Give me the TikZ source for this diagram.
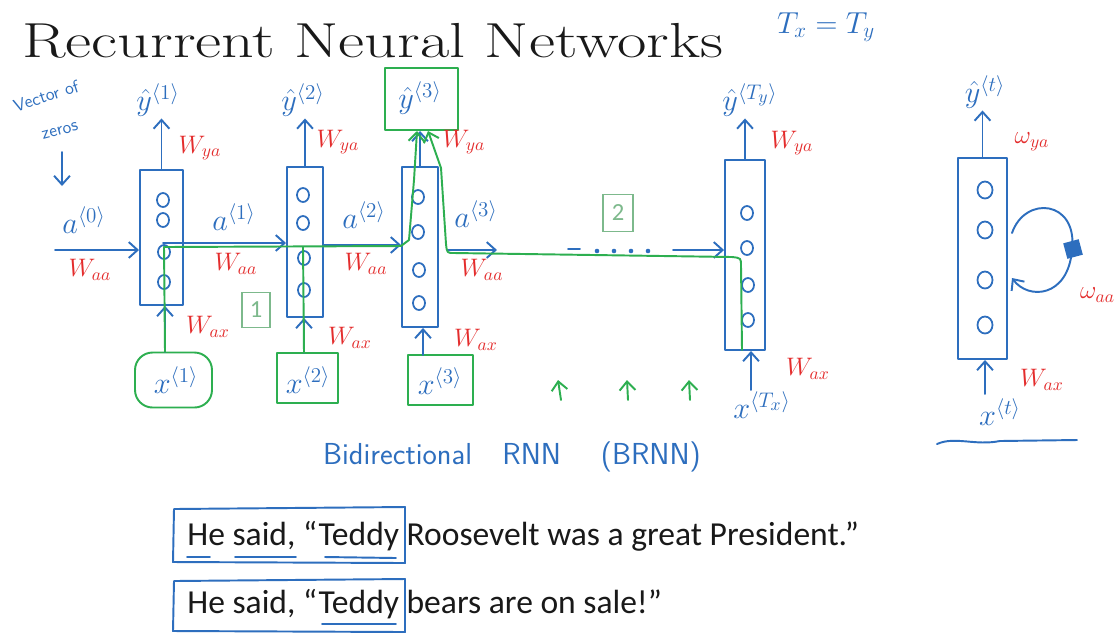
\documentclass[tikz,border=0pt]{standalone}
\usepackage{fontspec}
\usepackage{graphicx}
\newfontfamily\calfont{Carlito}
\usetikzlibrary{arrows.meta,calc}
\definecolor{hblue}{RGB}{45,110,190}
\definecolor{hred}{RGB}{228,45,45}
\definecolor{hgreen}{RGB}{45,175,80}
\definecolor{nbox}{RGB}{125,185,140}
\definecolor{txt}{RGB}{25,25,25}
\newlength\pu \setlength\pu{0.02cm}
\begin{document}
\begin{tikzpicture}[x=0.02cm,y=-0.02cm,
  hand/.style={line width=1.1pt,line cap=round,line join=round},
  cell/.style={draw=hblue,hand,rectangle,inner sep=0pt},
  unit/.style={draw=hblue,line width=1pt},
  bl/.style={hblue,font=\LARGE,inner sep=1pt},
  wl/.style={hred,font=\Large,inner sep=1pt},
  tip/.style={-{Straight Barb[length=5pt,width=9pt]}},
  barrow/.style={hand,draw=hblue,tip},
  gbox/.style={draw=hgreen,hand,rectangle,inner sep=0pt},
  gpath/.style={hand,draw=hgreen,tip},
  numbox/.style={draw=nbox,line width=0.6pt,rectangle,inner sep=0pt,text=nbox,font=\calfont\fontsize{14}{16}\selectfont},
  sent/.style={anchor=base west,inner sep=0pt,text=txt,font=\calfont\fontsize{19.1}{22}\selectfont},
  note/.style={hblue,font=\sffamily\normalsize,inner sep=0pt}]
\useasboundingbox (0,0) rectangle (1118,637);
\fill[white] (0,0) rectangle (1118,637);

% title
\node[anchor=base west,inner sep=0pt,text=txt] (title) at (22,57) {\scalebox{1.3}[1]{\fontsize{28}{30}\selectfont Recurrent Neural Networks}};
\node[hblue,font=\LARGE] (txty) at (826,27) {$T_x = T_y$};

% cells
\node[cell,minimum width=43\pu,minimum height=135\pu] (c1) at (161.5,237.5) {};
\node[cell,minimum width=36\pu,minimum height=150\pu] (c2) at (305,242) {};
\node[cell,minimum width=36\pu,minimum height=160\pu] (c3) at (420,247) {};
\node[cell,minimum width=40\pu,minimum height=190\pu] (cT) at (745,255) {};
\node[cell,minimum width=49\pu,minimum height=201\pu] (cR) at (982.5,258.5) {};

% units
\foreach \xx/\yy in {163/200,163/220,164/252,164/282,
                     303/195,303/223,304/258,304/290,
                     418/197,418/232,419/270,419/303,
                     747/213,747/248,748/285,748/320}
  \draw[unit] (\xx,\yy) ellipse [x radius=0.12cm,y radius=0.14cm];
\foreach \yy in {190,230,280,325}
  \draw[unit] (985,\yy) ellipse [x radius=0.15cm,y radius=0.17cm];

% outputs
\node[bl] (y1) at (158,100) {$\hat{y}^{\langle 1\rangle}$};
\node[bl] (y2) at (303,100) {$\hat{y}^{\langle 2\rangle}$};
\node[bl] (y3) at (420,98) {$\hat{y}^{\langle 3\rangle}$};
\node[gbox,minimum width=73\pu,minimum height=62\pu] (g3) at (421.5,99) {};
\node[bl] (yT) at (750,100) {$\hat{y}^{\langle T_y\rangle}$};
\node[bl] (yR) at (985,92) {$\hat{y}^{\langle t\rangle}$};

\draw[barrow] (c1.north) -- (c1.north |- y1.south);
\draw[barrow] (c2.north) -- (c2.north |- y2.south);
\draw[barrow] (c3.north) -- (c3.north |- g3.south);
\draw[barrow] (cT.north) -- (cT.north |- yT.south);
\draw[barrow] (cR.north) -- (cR.north |- yR.south);

\node[wl] (wy1) at (200,148) {$W_{ya}$};
\node[wl] (wy2) at (338,142) {$W_{ya}$};
\node[wl] (wy3) at (464,142) {$W_{ya}$};
\node[wl] (wyT) at (792,143) {$W_{ya}$};
\node[wl] (wyR) at (1032,142) {$\omega_{ya}$};

% activations
\node[note,rotate=18] (vz1) at (46,96) {Vector of};
\node[note,rotate=15] (vz2) at (60,131) {zeros};
\coordinate (vzA) at (62,152);
\coordinate (vzB) at (62,186);
\draw[barrow] (vzA) -- (vzB);

\node[bl] (a0) at (84,220) {$a^{\langle 0\rangle}$};
\node[bl] (a1) at (234,217) {$a^{\langle 1\rangle}$};
\node[bl] (a2) at (364,215) {$a^{\langle 2\rangle}$};
\node[bl] (a3) at (476,214) {$a^{\langle 3\rangle}$};

\coordinate (a0s) at (55,250);
\coordinate (a1s) at (163,243);
\coordinate (a2s) at (323,245);
\coordinate (a3s) at (447,250);
\coordinate (a3e) at (497,250);
\coordinate (aTs) at (673,250);
\draw[barrow] (a0s) -- (a0s -| c1.west);
\draw[barrow] (a1s) -- (a1s -| c2.west);
\draw[barrow] (a2s) -- (a2s -| c3.west);
\draw[barrow] (a3s) -- (a3e);
\draw[hand,hblue] (568,249) -- (580,249);
\foreach \xx in {597,614,631,648} \fill[hblue] (\xx,251) circle [radius=1.3pt];
\draw[barrow] (aTs) -- (aTs -| cT.west);

\node[wl] (waa0) at (90,270) {$W_{aa}$};
\node[wl] (waa1) at (236,264) {$W_{aa}$};
\node[wl] (waa2) at (366,264) {$W_{aa}$};
\node[wl] (waa3) at (482,270) {$W_{aa}$};

% recurrent loop
\coordinate (lpA) at (1012,233);
\coordinate (lpB) at (1012,278);
\draw[barrow] (lpA) .. controls (1025,195) and (1078,200) .. (1072,250)
  .. controls (1068,298) and (1028,300) .. (lpB);
\fill[hblue,rotate around={15:(1073,249)}] (1065,241) rectangle (1081,257);
\node[wl,anchor=west] (waaR) at (1078,295) {$\omega_{aa}$};

% inputs
\node[gbox,rounded corners=10pt,minimum width=77\pu,minimum height=55\pu] (gx1) at (173.5,380) {};
\node[gbox,minimum width=61\pu,minimum height=50\pu] (gx2) at (307.5,378) {};
\node[gbox,minimum width=65\pu,minimum height=50\pu] (gx3) at (440.5,380) {};
\node[bl] (x1) at (176,380) {$x^{\langle 1\rangle}$};
\node[bl] (x2) at (308,380) {$x^{\langle 2\rangle}$};
\node[bl] (x3) at (440,381) {$x^{\langle 3\rangle}$};
\node[bl] (xT) at (762,405) {$x^{\langle T_x\rangle}$};
\node[bl] (xR) at (1000,412) {$x^{\langle t\rangle}$};

\coordinate (x1a) at (165,352);
\coordinate (x2a) at (304,353);
\coordinate (x3a) at (423,355);
\coordinate (xTa) at (751,390);
\coordinate (xRa) at (985,394);
\draw[barrow] (x1a) -- (x1a |- c1.south);
\draw[barrow] (x2a) -- (x2a |- c2.south);
\draw[barrow] (x3a) -- (x3a |- c3.south);
\draw[barrow] (xTa) -- (xTa |- cT.south);
\draw[barrow] (xRa) -- (xRa |- cR.south);

\node[wl] (wx1) at (208,327) {$W_{ax}$};
\node[wl] (wx2) at (350,338) {$W_{ax}$};
\node[wl] (wx3) at (476,340) {$W_{ax}$};
\node[wl] (wxT) at (808,369) {$W_{ax}$};
\node[wl] (wxR) at (1042,380) {$W_{ax}$};

\draw[hand,hblue] (937,444) .. controls (955,436) and (975,446) .. (1000,441) -- (1077,440);

% green forward / backward paths
\coordinate (g3L) at (417,131);
\coordinate (g3R) at (428,131);
\draw[gpath] (x1a) -- (164,247) -- (401,246) -- (409,240) -- (414,180) -- (g3L);
\draw[hand,draw=hgreen] (x2a) -- (303,247);
\draw[gpath] (742,350) -- (741,266) .. controls (741,258) .. (732,257) -- (454,253)
  .. controls (447,253) .. (446,244) -- (441,168) -- (g3R);

\coordinate (ga1) at (561,400);
\coordinate (gb1) at (558,380);
\coordinate (ga2) at (628,400);
\coordinate (gb2) at (627,380);
\coordinate (ga3) at (690,400);
\coordinate (gb3) at (689,380);
\draw[gpath] (ga1) -- (gb1);
\draw[gpath] (ga2) -- (gb2);
\draw[gpath] (ga3) -- (gb3);

\node[numbox,minimum width=28\pu,minimum height=35\pu] (n1) at (256,310) {1};
\node[numbox,minimum width=30\pu,minimum height=37\pu] (n2) at (618,213) {2};

% BRNN note
\node[hblue,font=\sffamily\LARGE] (brnn) at (512,457) {Bidirectional\quad RNN\quad\ (BRNN)};

% sentences
\node[sent] (s1) at (187,545) {He said, “Teddy Roosevelt was a great President.”};
\node[sent] (s2) at (187,613) {He said, “Teddy bears are on sale!”};
\draw[hand,hblue] (174,509) -- (405,507) -- (405,563) -- (173,562) -- cycle;
\draw[hand,hblue] (174,581) -- (405,579) -- (405,632) -- (173,631) -- cycle;
\draw[hand,hblue] (187,557) -- (210,557);
\draw[hand,hblue] (235,557) -- (296,557);
\draw[hand,hblue] (325,557) -- (396,558);
\draw[hand,hblue] (322,624) -- (396,624);
\end{tikzpicture}
\end{document}
